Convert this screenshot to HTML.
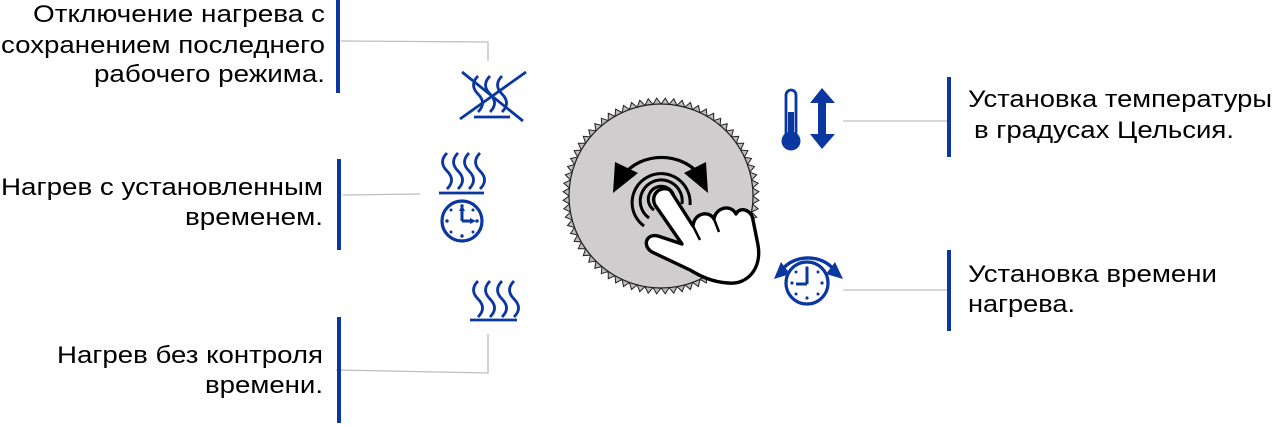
<!DOCTYPE html>
<html><head><meta charset="utf-8"><style>
html,body{margin:0;padding:0;background:#fff;}
svg{display:block;}
text{font-family:"Liberation Sans",Arial,sans-serif;font-size:24px;fill:#000;}
</style></head><body>
<svg width="1273" height="427" viewBox="0 0 1273 427" xmlns="http://www.w3.org/2000/svg">
<g stroke="#bdbdbd" stroke-width="1.3" fill="none">
<polyline points="341,41 488,42 488,61"/>
<line x1="343" y1="195" x2="420" y2="194"/>
<polyline points="336,370 488,373 488,334"/>
<line x1="843" y1="121" x2="948" y2="121"/>
<line x1="843" y1="290" x2="948" y2="290"/>
</g>
<g fill="#0a37a0">
<rect x="336" y="0" width="4" height="93"/>
<rect x="337" y="159" width="4" height="91"/>
<rect x="337" y="317" width="4" height="106"/>
<rect x="947" y="77" width="4" height="80"/>
<rect x="947" y="250" width="4" height="81"/>
</g>
<g>
<text x="33" y="22" textLength="292" lengthAdjust="spacingAndGlyphs">Отключение нагрева с</text>
<text x="1" y="53" textLength="324" lengthAdjust="spacingAndGlyphs">сохранением последнего</text>
<text x="94" y="82" textLength="231" lengthAdjust="spacingAndGlyphs">рабочего режима.</text>
<text x="1" y="195" textLength="322" lengthAdjust="spacingAndGlyphs">Нагрев с установленным</text>
<text x="185" y="225" textLength="138" lengthAdjust="spacingAndGlyphs">временем.</text>
<text x="57" y="363" textLength="266" lengthAdjust="spacingAndGlyphs">Нагрев без контроля</text>
<text x="205" y="393" textLength="118" lengthAdjust="spacingAndGlyphs">времени.</text>
<text x="968" y="107" textLength="304" lengthAdjust="spacingAndGlyphs">Установка температуры</text>
<text x="974" y="138" textLength="260" lengthAdjust="spacingAndGlyphs">в градусах Цельсия.</text>
<text x="968" y="282" textLength="249" lengthAdjust="spacingAndGlyphs">Установка времени</text>
<text x="968" y="312" textLength="107" lengthAdjust="spacingAndGlyphs">нагрева.</text>
</g>

<defs>
<path id="wave" d="M0,0 c-6,6 -6,12 0,18 c6,6 6,12 0,18" fill="none" stroke="#0a37a0" stroke-width="2.8"/>
</defs>
<g>
<use href="#wave" x="478" y="76"/><use href="#wave" x="490" y="76"/><use href="#wave" x="502" y="76"/>
<line x1="474" y1="117" x2="510" y2="117" stroke="#0a37a0" stroke-width="2.8"/>
<line x1="462" y1="72" x2="523" y2="121" stroke="#0a37a0" stroke-width="2.8"/>
<line x1="460" y1="119" x2="526" y2="72" stroke="#0a37a0" stroke-width="2.8"/>
</g>
<g>
<use href="#wave" x="447" y="153"/><use href="#wave" x="458" y="153"/><use href="#wave" x="469" y="153"/><use href="#wave" x="480" y="153"/>
<line x1="439" y1="193" x2="484" y2="193" stroke="#0a37a0" stroke-width="2.8"/>
<circle cx="462" cy="221" r="20" fill="none" stroke="#0a37a0" stroke-width="3.2"/>
<g fill="#0a37a0">
<circle cx="462" cy="206" r="1.7"/><circle cx="462" cy="236" r="1.7"/><circle cx="447" cy="221" r="1.7"/><circle cx="477" cy="221" r="1.7"/>
<circle cx="451" cy="210" r="1.5"/><circle cx="473" cy="210" r="1.5"/><circle cx="451" cy="232" r="1.5"/><circle cx="473" cy="232" r="1.5"/>
</g>
<path d="M462,221 V208 M462,221 H473" stroke="#0a37a0" stroke-width="3" fill="none"/>
<path d="M459,211 L462,205 L465,211Z M470,218 L476,221 L470,224Z" fill="#0a37a0"/>
</g>
<g>
<use href="#wave" x="478" y="281"/><use href="#wave" x="490" y="281"/><use href="#wave" x="502" y="281"/><use href="#wave" x="514" y="281"/>
<line x1="470" y1="320" x2="517" y2="320" stroke="#0a37a0" stroke-width="2.8"/>
</g>
<g fill="#0a37a0">
<rect x="786" y="90" width="10" height="50" rx="5" fill="none" stroke="#0a37a0" stroke-width="2.8"/>
<rect x="788" y="112" width="6" height="29"/>
<circle cx="791" cy="141" r="9.5"/>
<path d="M810,103 L822,88 L835,103 L826,103 L826,134 L835,134 L822,149 L810,134 L818,134 L818,103Z"/>
</g>
<g>
<circle cx="807" cy="283" r="21" fill="none" stroke="#0a37a0" stroke-width="3.2"/>
<g fill="#0a37a0">
<circle cx="807" cy="268" r="1.6"/><circle cx="807" cy="298" r="1.6"/><circle cx="792" cy="283" r="1.6"/><circle cx="822" cy="283" r="1.6"/>
<circle cx="796" cy="272" r="1.5"/><circle cx="818" cy="272" r="1.5"/><circle cx="796" cy="294" r="1.5"/><circle cx="818" cy="294" r="1.5"/>
</g>
<path d="M807,284 V269 M807,284 H796" stroke="#0a37a0" stroke-width="3" fill="none"/>
<path d="M782,270 A30,24 0 0 1 834,270" fill="none" stroke="#0a37a0" stroke-width="3.4"/>
<path d="M774,279 L781,262 L790,274Z M843,279 L835,262 L826,274Z" fill="#0a37a0"/>
</g>

<g id="knob"></g>
<circle cx="661" cy="196" r="92" fill="#cfcdce" stroke="#222" stroke-width="1.2"/>
<path d="M626,172 A46,40 0 0 1 697,172" fill="none" stroke="#000" stroke-width="3.2"/>
<path d="M613,193 L615,162 L638,173Z M708,193 L706,162 L684,173Z" fill="#000"/>
<g fill="none" stroke="#000" stroke-width="3">
<path d="M644,226 A29,29 0 1 1 690,205"/>
<path d="M649,218 A21,21 0 1 1 682,204"/>
<path d="M654,210 A13,13 0 1 1 674,202"/>
</g>
<path d="M655,205 C650,195 660,185 670,190 L693,226 C694,213 709,210 714,219 C716,207 731,204 736,214 C740,206 752,210 753,220 L758,245 C762,268 748,285 728,283 C712,282 700,276 690,270 L652,252 C642,246 646,233 658,236 L682,244 Z" fill="#fff" stroke="#000" stroke-width="3.4" stroke-linejoin="round"/>
<path d="M693,226 L700,240 M714,219 L719,232" stroke="#000" stroke-width="2.5" fill="none"/>
</svg>
<script>
(function(){
var cx=661,cy=196,n=72,ro=98,ri=92,pts=[];
for(var i=0;i<n;i++){
var a1=2*Math.PI*i/n,a2=2*Math.PI*(i+0.5)/n;
pts.push((cx+ri*Math.cos(a1)).toFixed(1)+','+(cy+ri*Math.sin(a1)).toFixed(1));
pts.push((cx+ro*Math.cos(a2)).toFixed(1)+','+(cy+ro*Math.sin(a2)).toFixed(1));
}
var p=document.createElementNS('http://www.w3.org/2000/svg','polygon');
p.setAttribute('points',pts.join(' '));
p.setAttribute('fill','#bdbbbc');p.setAttribute('stroke','#222');p.setAttribute('stroke-width','1');
document.getElementById('knob').appendChild(p);
})();
</script>
</body></html>
